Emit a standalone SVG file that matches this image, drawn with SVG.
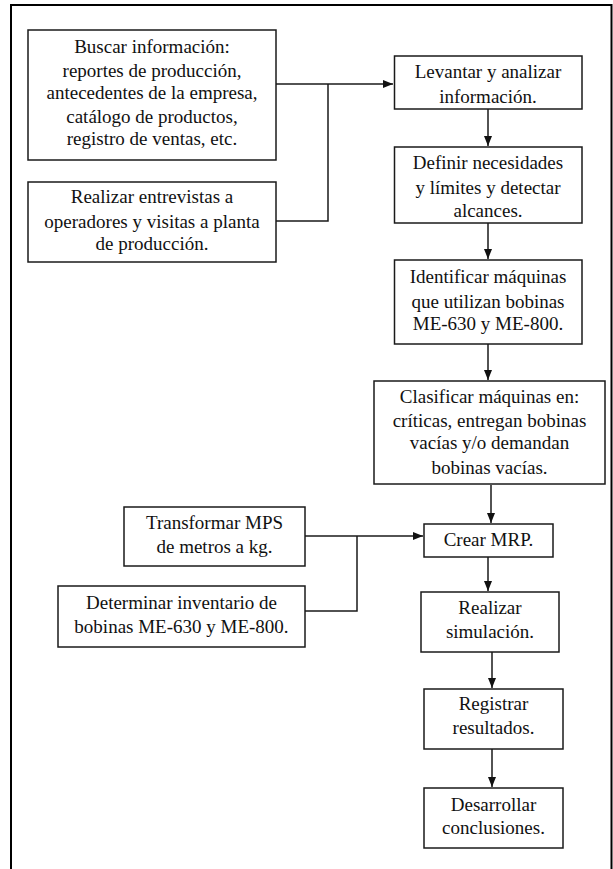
<svg xmlns="http://www.w3.org/2000/svg" width="613" height="869" viewBox="0 0 613 869">
  <style>
    .box { fill: #ffffff; stroke: #1a1a1a; stroke-width: 1.5; }
    .lbl { font-family: 'Liberation Serif', 'DejaVu Serif', serif; font-size: 19px; fill: #111111; text-anchor: middle; }
    .con { fill: none; stroke: #1a1a1a; stroke-width: 1.5; }
    .frame { fill: none; stroke: #000000; stroke-width: 2; }
  </style>
  <defs>
    <marker id="arrow" markerUnits="userSpaceOnUse" markerWidth="10" markerHeight="10" viewBox="0 0 10 10" refX="10" refY="5" orient="auto">
      <path d="M0,1 L10,5 L0,9 Z" fill="#111111"/>
    </marker>
  </defs>

  <rect width="613" height="869" fill="#ffffff"/>
  <!-- outer frame, open at the bottom -->
  <path class="frame" d="M11,869 V5 H611.5 V869"/>

  <g id="connectors">
    <path class="con" d="M276,84 H393" marker-end="url(#arrow)"/>
    <path class="con" d="M276,221 H328 V84"/>
    <path class="con" d="M488,109 V146" marker-end="url(#arrow)"/>
    <path class="con" d="M488,223 V259" marker-end="url(#arrow)"/>
    <path class="con" d="M488,344 V380" marker-end="url(#arrow)"/>
    <path class="con" d="M491,485 V523" marker-end="url(#arrow)"/>
    <path class="con" d="M305,536 H423" marker-end="url(#arrow)"/>
    <path class="con" d="M305,611 H357 V536"/>
    <path class="con" d="M488,557 V591" marker-end="url(#arrow)"/>
    <path class="con" d="M492,652 V688" marker-end="url(#arrow)"/>
    <path class="con" d="M492,749 V787" marker-end="url(#arrow)"/>
  </g>

  <g id="buscar">
    <rect class="box" x="28" y="30" width="248" height="130"/>
    <text class="lbl" x="152" y="53">Buscar información:</text>
    <text class="lbl" x="152" y="77">reportes de producción,</text>
    <text class="lbl" x="152" y="99">antecedentes de la empresa,</text>
    <text class="lbl" x="152" y="123">catálogo de productos,</text>
    <text class="lbl" x="152" y="145">registro de ventas, etc.</text>
  </g>

  <g id="entrevistas">
    <rect class="box" x="28" y="182" width="248" height="80"/>
    <text class="lbl" x="152" y="203">Realizar entrevistas a</text>
    <text class="lbl" x="152" y="228">operadores y visitas a planta</text>
    <text class="lbl" x="152" y="250">de producción.</text>
  </g>

  <g id="levantar">
    <rect class="box" x="394.5" y="56" width="187.5" height="53"/>
    <text class="lbl" x="488" y="78">Levantar y analizar</text>
    <text class="lbl" x="488" y="103">información.</text>
  </g>

  <g id="definir">
    <rect class="box" x="394.5" y="147" width="187.5" height="76"/>
    <text class="lbl" x="488" y="169">Definir necesidades</text>
    <text class="lbl" x="488" y="194">y límites y detectar</text>
    <text class="lbl" x="488" y="217">alcances.</text>
  </g>

  <g id="identificar">
    <rect class="box" x="394.5" y="260" width="187.5" height="84"/>
    <text class="lbl" x="488" y="283">Identificar máquinas</text>
    <text class="lbl" x="488" y="308">que utilizan bobinas</text>
    <text class="lbl" x="488" y="330">ME-630 y ME-800.</text>
  </g>

  <g id="clasificar">
    <rect class="box" x="374" y="381" width="231" height="103"/>
    <text class="lbl" x="489.5" y="403">Clasificar máquinas en:</text>
    <text class="lbl" x="489.5" y="427">críticas, entregan bobinas</text>
    <text class="lbl" x="489.5" y="449">vacías y/o demandan</text>
    <text class="lbl" x="489.5" y="474">bobinas vacías.</text>
  </g>

  <g id="transformar">
    <rect class="box" x="124" y="507" width="181" height="59"/>
    <text class="lbl" x="214.5" y="529">Transformar MPS</text>
    <text class="lbl" x="214.5" y="553">de metros a kg.</text>
  </g>

  <g id="determinar">
    <rect class="box" x="58" y="586" width="247" height="61"/>
    <text class="lbl" x="181.5" y="609">Determinar inventario de</text>
    <text class="lbl" x="181.5" y="633">bobinas ME-630 y ME-800.</text>
  </g>

  <g id="crear-mrp">
    <rect class="box" x="424" y="524" width="129" height="33"/>
    <text class="lbl" x="488.5" y="546">Crear MRP.</text>
  </g>

  <g id="simulacion">
    <rect class="box" x="421" y="592" width="138" height="60"/>
    <text class="lbl" x="490" y="614">Realizar</text>
    <text class="lbl" x="490" y="638">simulación.</text>
  </g>

  <g id="resultados">
    <rect class="box" x="424" y="689" width="139" height="60"/>
    <text class="lbl" x="493.5" y="710">Registrar</text>
    <text class="lbl" x="493.5" y="734">resultados.</text>
  </g>

  <g id="conclusiones">
    <rect class="box" x="424" y="788" width="139" height="60"/>
    <text class="lbl" x="493.5" y="811">Desarrollar</text>
    <text class="lbl" x="493.5" y="834">conclusiones.</text>
  </g>
</svg>
